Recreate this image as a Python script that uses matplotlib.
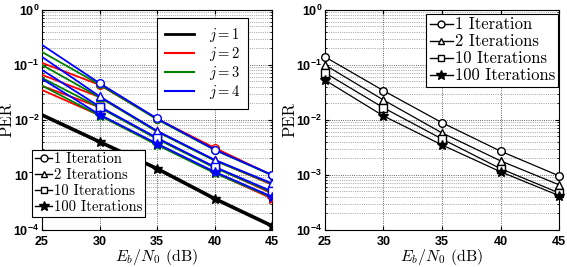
import numpy as np
import matplotlib
matplotlib.use("Agg")
import matplotlib.pyplot as plt
from matplotlib.lines import Line2D
from matplotlib.ticker import FixedLocator, LogLocator, NullFormatter

plt.rcParams['mathtext.fontset'] = 'cm'

# Data
snr = [25, 30, 35, 40, 45]
iter_labels = ['1 Iteration', '2 Iterations', '10 Iterations', '100 Iterations']
iter_markers = ['o', '^', 's', '*']
j_labels = ['$j = 1$', '$j = 2$', '$j = 3$', '$j = 4$']
j_colors = ['k', 'r', 'g', 'b']

# left panel, j = 1 (all iteration counts coincide)
per_j1 = [0.0123, 0.004, 0.0013, 0.00037, 0.000118]
# left panel, j = 2..4, one row per iteration count
per_j2 = [[0.109, 0.0433, 0.0104, 0.0031, 0.00098],
          [0.066, 0.026, 0.0062, 0.00185, 0.00066],
          [0.0415, 0.017, 0.0046, 0.00138, 0.00046],
          [0.035, 0.0121, 0.0036, 0.0011, 0.00037]]
per_j3 = [[0.172, 0.044, 0.0102, 0.00285, 0.00098],
          [0.1, 0.0258, 0.0061, 0.00182, 0.00068],
          [0.058, 0.0168, 0.0045, 0.00135, 0.00048],
          [0.042, 0.012, 0.0035, 0.00108, 0.00039]]
per_j4 = [[0.231, 0.0465, 0.0106, 0.00288, 0.001],
          [0.14, 0.0268, 0.0063, 0.00188, 0.0007],
          [0.081, 0.0175, 0.0047, 0.0014, 0.0005],
          [0.0556, 0.0125, 0.0037, 0.00114, 0.0004]]
# right panel
per_right = [[0.14, 0.034, 0.0089, 0.0027, 0.00096],
             [0.1, 0.023, 0.0058, 0.0018, 0.00066],
             [0.072, 0.0166, 0.0045, 0.0013, 0.00047],
             [0.053, 0.0118, 0.0035, 0.00114, 0.00042]]

yticks = [1e0, 1e-1, 1e-2, 1e-3, 1e-4]
ytick_labels = [r'$\mathregular{10^{0}}$', r'$\mathregular{10^{-1}}$', r'$\mathregular{10^{-2}}$',
                r'$\mathregular{10^{-3}}$', r'$\mathregular{10^{-4}}$']
serif = 'cmr10'
tickfont = dict(family='Liberation Sans', size=9, weight='bold')

fig = plt.figure(figsize=(5.67, 2.67), dpi=100)
ax1 = fig.add_axes([0.074, 0.139, 0.406, 0.824])
ax2 = fig.add_axes([0.573, 0.139, 0.413, 0.824])


def style_axes(ax):
    ax.set_yscale('log')
    ax.set_xlim(25, 45)
    ax.set_ylim(1e-4, 1e0)
    ax.set_xticks(snr)
    ax.set_xticklabels([str(s) for s in snr], fontdict=tickfont)
    ax.yaxis.set_major_locator(FixedLocator(yticks))
    ax.yaxis.set_minor_locator(LogLocator(base=10, subs=np.arange(2, 10)))
    ax.yaxis.set_minor_formatter(NullFormatter())
    ax.set_yticklabels(ytick_labels, fontdict=tickfont)
    ax.tick_params(which='both', direction='in', top=True, right=True, length=3, pad=2)
    ax.tick_params(axis='x', pad=4.5)
    ax.tick_params(which='minor', length=1.5)
    ax.grid(True, which='major', linestyle=':', color='k', linewidth=0.6, alpha=0.8)
    ax.grid(True, which='minor', axis='y', linestyle=':', color='k', linewidth=0.5, alpha=0.6)
    ax.set_ylabel('PER', family=serif, fontsize=12, labelpad=-1)
    ax.set_xlabel(r'$E_b/N_0$ (dB)', family=serif, fontsize=11.5, labelpad=-1)
    for sp in ax.spines.values():
        sp.set_linewidth(0.8)


# left panel
ax1.plot(snr, per_j1, color='k', lw=2.6, marker='*', ms=7, markevery=[1, 2, 3, 4], zorder=3)
for per, col in zip([per_j2, per_j3, per_j4], j_colors[1:]):
    for vals, mk in zip(per, iter_markers):
        ax1.plot(snr, vals, color=col, lw=1.3, marker=mk, ms=5.5 if mk != '*' else 7,
                 mfc='w' if mk != '*' else col, markevery=[1, 2, 3, 4], zorder=3)
style_axes(ax1)

col_handles = [Line2D([], [], color=c, lw=1.5 if c != 'k' else 2) for c in j_colors]
leg1 = ax1.legend(col_handles, j_labels, loc='upper right', bbox_to_anchor=(0.896, 0.964),
                  prop={'family': serif, 'size': 10.5}, handlelength=2.0, labelspacing=0.08,
                  fancybox=False, edgecolor='k', framealpha=1, borderpad=0.55,
                  handletextpad=1.0, borderaxespad=0)
leg1.get_frame().set_linewidth(0.8)
ax1.add_artist(leg1)

mk_handles = [Line2D([], [], color='k', lw=1, marker=m, ms=5 if m != '*' else 7,
                     mfc='w' if m != '*' else 'k') for m in iter_markers]
leg2 = ax1.legend(mk_handles, iter_labels, loc='lower left', bbox_to_anchor=(-0.043, 0.059),
                  prop={'family': serif, 'size': 10.5}, handlelength=1.2, labelspacing=0.15,
                  fancybox=False, edgecolor='k', framealpha=1, borderpad=0.2,
                  handletextpad=0.1, borderaxespad=0)
leg2.get_frame().set_linewidth(0.8)

# right panel
for vals, mk in zip(per_right, iter_markers):
    ax2.plot(snr, vals, color='k', lw=0.9, marker=mk, ms=5.5 if mk != '*' else 7,
             mfc='w' if mk != '*' else 'k', zorder=3, clip_on=False)
style_axes(ax2)
leg3 = ax2.legend(mk_handles, iter_labels, loc='upper right', bbox_to_anchor=(0.997, 0.982),
                  prop={'family': serif, 'size': 12}, handlelength=1.4, labelspacing=0.1,
                  fancybox=False, edgecolor='k', framealpha=1, borderpad=0.2,
                  handletextpad=0.1, borderaxespad=0)
leg3.get_frame().set_linewidth(0.8)

fig.savefig('out.png', dpi=100)
